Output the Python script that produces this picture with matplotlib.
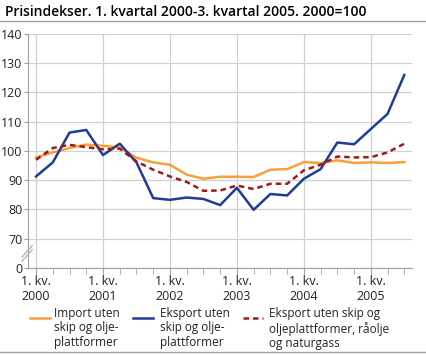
import matplotlib.pyplot as plt
from matplotlib.lines import Line2D

plt.rcParams['font.family'] = ['Open Sans', 'DejaVu Sans']

# 1. kv. 2000 - 3. kv. 2005
quarters = list(range(23))
year_labels = ['1. kv.\n2000', '1. kv.\n2001', '1. kv.\n2002',
               '1. kv.\n2003', '1. kv.\n2004', '1. kv.\n2005']

import_uten = [97.8, 99.5, 101.0, 102.2, 101.8, 101.2, 97.7, 96.1,
               95.3, 91.9, 90.5, 91.2, 91.2, 91.1, 93.6, 93.8,
               96.2, 95.9, 96.8, 95.9, 96.1, 95.9, 96.2]
eksport_uten = [91.3, 96.1, 106.3, 107.2, 98.6, 102.5, 96.1, 83.9,
                83.3, 84.1, 83.6, 81.5, 87.4, 79.9, 85.3, 84.8,
                90.5, 93.8, 102.9, 102.3, 107.5, 112.7, 126.0]
eksport_uten_olje = [97.0, 101.0, 102.1, 101.3, 100.6, 100.8, 96.4, 93.6,
                     91.3, 89.4, 86.4, 86.5, 88.2, 87.0, 88.8, 88.8,
                     93.4, 95.3, 98.1, 97.8, 97.9, 99.5, 102.5]

labels = ['Import uten\nskip og olje-\nplattformer',
          'Eksport uten\nskip og olje-\nplattformer',
          'Eksport uten skip og\noljeplattformer, råolje\nog naturgass']
colors = ['#f7a03c', '#1f3c96', '#a01919']
styles = ['-', '-', (0, (2.2, 1.6))]

fig = plt.figure(figsize=(4.27, 3.55), dpi=100)
ax = fig.add_axes([28 / 427, 1 - 268 / 355, 384 / 427, 234 / 355])

series = [import_uten, eksport_uten, eksport_uten_olje]
for vals, c, ls in zip(series, colors, styles):
    ax.plot(quarters, vals, color=c, lw=1.8, ls=ls, zorder=3)

# y axis is broken: 0 is drawn one step below 70
ax.set_ylim(60, 140)
ax.set_yticks(range(60, 141, 10))
ax.set_yticklabels(['0'] + [str(v) for v in range(70, 141, 10)])
ax.set_xlim(-0.48, 22.46)
ax.set_xticks(range(0, 23, 4))
ax.set_xticklabels(year_labels)
ax.set_xticks(quarters, minor=True)

ax.grid(True, color='#d0d0d0', lw=0.9)
for s in ['top', 'right']:
    ax.spines[s].set_visible(False)
for s in ['left', 'bottom']:
    ax.spines[s].set_color('#a0a0a0')
ax.tick_params(axis='both', which='both', color='#a0a0a0', labelsize=9,
               labelcolor='#222222')
ax.tick_params(axis='x', which='major', length=4, pad=1)
ax.tick_params(axis='x', which='minor', length=4)
ax.tick_params(axis='y', length=3, pad=1)

# axis break marks
for dy in [0, 1.4]:
    ax.plot([-0.84, -0.22], [62.3 + dy, 66.3 + dy], color='#b0b0b0',
            lw=0.9, clip_on=False, zorder=4)

fig.text(5 / 427, 1 - 12 / 355, 'Prisindekser. 1. kvartal 2000-3. kvartal 2005. 2000=100',
         fontsize=10, fontweight='semibold', va='center', ha='left')
fig.add_artist(Line2D([0, 1], [1 - 21 / 355] * 2, color='#a0a0a0', lw=1))
fig.add_artist(Line2D([0, 1], [1 - 352 / 355] * 2, color='#a0a0a0', lw=1))

# legend
hx = [30, 133, 243]
tx = [54, 160, 269]
for x0, t0, lab, c, ls in zip(hx, tx, labels, colors, styles):
    fig.add_artist(Line2D([x0 / 427, (x0 + 20) / 427], [1 - 318 / 355] * 2,
                          color=c, lw=1.8, ls=ls))
    fig.text(t0 / 427, 1 - 307 / 355, lab, fontsize=8.5, va='top',
             ha='left', color='#222222', linespacing=1.15)

fig.savefig('out.png', dpi=100)
